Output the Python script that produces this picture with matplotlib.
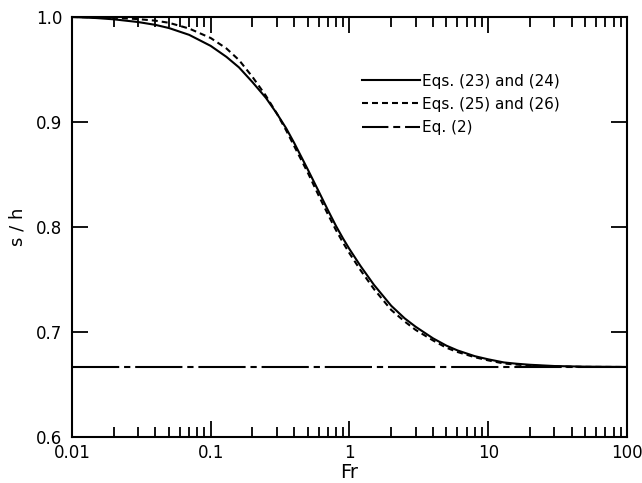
import numpy as np
import matplotlib
matplotlib.use("Agg")
import matplotlib.pyplot as plt
from matplotlib.ticker import LogLocator, NullFormatter, FixedLocator, FixedFormatter

# values
fr_solid = [0.01, 0.015, 0.02, 0.03, 0.04, 0.05, 0.07, 0.1, 0.13, 0.16, 0.2, 0.25,
            0.3, 0.35, 0.4, 0.5, 0.6, 0.7, 0.8, 0.9, 1.0, 1.2, 1.5, 2, 2.5, 3,
            4, 5, 6, 8, 10, 13, 16, 20, 30, 50, 100]
s_solid = [1.000, 0.9990, 0.9978, 0.9952, 0.9925, 0.9895, 0.983, 0.9725, 0.962,
           0.952, 0.938, 0.923, 0.908, 0.894, 0.880, 0.855, 0.834, 0.816, 0.801,
           0.789, 0.779, 0.763, 0.745, 0.725, 0.713, 0.705, 0.694, 0.687, 0.6825,
           0.677, 0.674, 0.671, 0.6698, 0.6688, 0.6676, 0.6670, 0.6667]

fr_dashed = [0.01, 0.015, 0.02, 0.03, 0.04, 0.05, 0.07, 0.1, 0.13, 0.16, 0.2, 0.25,
             0.3, 0.35, 0.4, 0.5, 0.6, 0.7, 0.8, 0.9, 1.0, 1.2, 1.5, 2, 2.5, 3,
             4, 5, 6, 8, 10, 13, 16, 20, 30, 50, 100]
s_dashed = [1.000, 0.9997, 0.9993, 0.998, 0.9965, 0.9945, 0.989, 0.980, 0.970,
            0.959, 0.943, 0.925, 0.908, 0.892, 0.877, 0.852, 0.830, 0.812, 0.797,
            0.785, 0.775, 0.759, 0.741, 0.721, 0.710, 0.702, 0.692, 0.685, 0.681,
            0.676, 0.673, 0.670, 0.669, 0.668, 0.6672, 0.6668, 0.6667]

fr_eq2 = [0.01, 100]
s_eq2 = [2 / 3, 2 / 3]

labels = ["Eqs. (23) and (24)", "Eqs. (25) and (26)", "Eq. (2)"]
xtick_vals = [0.01, 0.1, 1, 10, 100]
xtick_text = ["0.01", "0.1", "1", "10", "100"]
ytick_vals = [0.6, 0.7, 0.8, 0.9, 1.0]
ytick_text = ["0.6", "0.7", "0.8", "0.9", "1.0"]

plt.rcParams['font.family'] = ['DejaVu Sans']
plt.rcParams['lines.scale_dashes'] = False

fig = plt.figure(figsize=(6.42, 4.83), dpi=100)
ax = fig.add_axes([0.112, 0.0952, 0.8646, 0.8696])

ax.plot(fr_solid, s_solid, color='black', lw=1.5, label=labels[0])
ax.plot(fr_dashed, s_dashed, color='black', lw=1.5, dashes=(4.3, 2.9), label=labels[1])
ax.plot(fr_eq2, s_eq2, color='black', lw=1.5, dashes=(34, 3.5, 4.5, 3.5), label=labels[2])

ax.set_xscale('log')
ax.set_xlim(0.01, 100)
ax.set_ylim(0.6, 1.0)

ax.xaxis.set_major_locator(FixedLocator(xtick_vals))
ax.xaxis.set_major_formatter(FixedFormatter(xtick_text))
ax.xaxis.set_minor_locator(LogLocator(base=10, subs=np.arange(2, 10), numticks=20))
ax.xaxis.set_minor_formatter(NullFormatter())
ax.yaxis.set_major_locator(FixedLocator(ytick_vals))
ax.yaxis.set_major_formatter(FixedFormatter(ytick_text))

ax.tick_params(which='both', direction='in', top=True, right=True, width=1.3, labelsize=12)
ax.tick_params(axis='x', which='major', length=11.5, pad=5)
ax.tick_params(axis='x', which='minor', length=7.5)
ax.tick_params(axis='y', which='major', length=11.5, pad=7)

for sp in ax.spines.values():
    sp.set_linewidth(1.5)

ax.set_xlabel("Fr", fontsize=14, labelpad=1)
ax.set_ylabel("s / h", fontsize=13, labelpad=7)

leg = ax.legend(loc='upper left', bbox_to_anchor=(0.5225, 0.865), frameon=False,
                fontsize=11, handlelength=3.8, handletextpad=0.15, labelspacing=0.53,
                borderpad=0, borderaxespad=0)
# shorter dash-dot pattern in the key so it reads long-short-long
leg.get_lines()[2].set_dashes((19, 3.5, 5, 3.5))

fig.savefig("out.png", dpi=100)
